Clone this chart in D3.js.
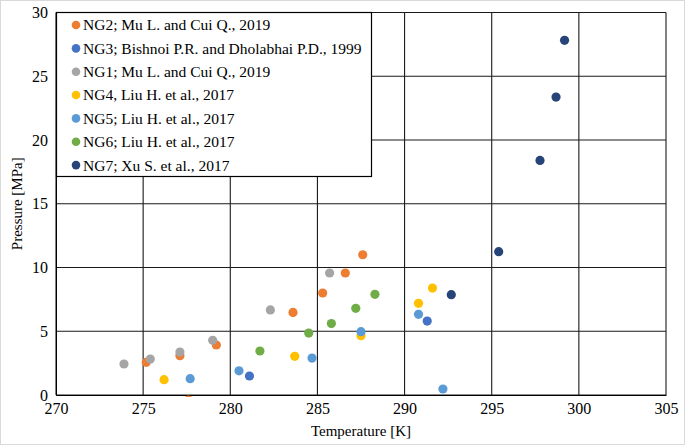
<!DOCTYPE html>
<html><head><meta charset="utf-8">
<script src="https://cdn.jsdelivr.net/npm/d3@7"></script>
<style>body{margin:0;background:#fff}svg{display:block}</style>
</head><body><svg id="c" width="685" height="445"></svg>
<script>
const seriesNames = ["NG2; Mu L. and Cui Q., 2019","NG3; Bishnoi P.R. and Dholabhai P.D., 1999","NG1; Mu L. and Cui Q., 2019","NG4, Liu H. et al., 2017","NG5; Liu H. et al., 2017","NG6; Liu H. et al., 2017","NG7; Xu S. et al., 2017"];
const seriesColors = ["#ED7D31","#4472C4","#A5A5A5","#FFC000","#5B9BD5","#70AD47","#264478"];
const ng2T = [277.6,275.18,277.11,279.2,283.6,285.3,286.6,287.6];
const ng2P = [-0.4,2.56,3.08,3.92,6.48,8.0,9.57,11.0];
const ng3T = [281.1,291.3];
const ng3P = [1.49,5.8];
const ng1T = [273.9,275.41,277.11,278.99,282.3,285.7];
const ng1P = [2.43,2.82,3.37,4.29,6.67,9.57];
const ng4T = [276.2,283.7,287.5,290.8,291.6];
const ng4P = [1.2,3.03,4.65,7.19,8.39];
const ng5T = [277.7,280.5,284.69,287.5,290.8,292.2];
const ng5P = [1.28,1.9,2.9,4.97,6.33,0.47];
const ng6T = [281.7,284.5,285.8,287.2,288.3];
const ng6P = [3.45,4.86,5.6,6.8,7.9];
const ng7T = [292.68,295.4,297.77,298.69,299.18];
const ng7P = [7.87,11.24,18.4,23.37,27.82];
const xTicks = [270,275,280,285,290,295,300,305];
const yTicks = [0,5,10,15,20,25,30];

const allT = [ng2T,ng3T,ng1T,ng4T,ng5T,ng6T,ng7T];
const allP = [ng2P,ng3P,ng1P,ng4P,ng5P,ng6P,ng7P];
const FF = '"Liberation Serif", "Times New Roman", serif';

const svg = d3.select("#c");
svg.append("rect").attr("x",0.5).attr("y",0.5).attr("width",684).attr("height",444).attr("fill","#fff").attr("stroke","#d9d9d9");
const L=56,R=666,T=12.5,B=395;
const x = d3.scaleLinear().domain([270,305]).range([L,R]);
const y = d3.scaleLinear().domain([0,30]).range([B,T]);

// gridlines
const g = svg.append("g");
g.selectAll("line.v").data(xTicks).join("line").attr("x1",d=>x(d)).attr("x2",d=>x(d)).attr("y1",T).attr("y2",B).attr("stroke","#1a1a1a").attr("stroke-width",1.1);
g.selectAll("line.h").data(yTicks).join("line").attr("x1",L).attr("x2",R).attr("y1",d=>y(d)).attr("y2",d=>y(d)).attr("stroke","#1a1a1a").attr("stroke-width",1.1);

// axes
const xa = svg.append("g").attr("transform",`translate(0,${B})`).call(d3.axisBottom(x).tickValues(xTicks).tickSize(0).tickPadding(8).tickFormat(d3.format("d")));
xa.select(".domain").attr("stroke","#000");
const ya = svg.append("g").attr("transform",`translate(${L},0)`).call(d3.axisLeft(y).tickValues(yTicks).tickSize(0).tickPadding(8).tickFormat(d3.format("d")));
ya.select(".domain").attr("stroke","#000");
svg.selectAll(".tick text").style("font-size","16px").style("font-family",FF).style("fill","#000");

svg.append("text").attr("x",(L+R)/2).attr("y",436).attr("text-anchor","middle").style("font-size","15px").style("font-family",FF).text("Temperature [K]");
svg.append("text").attr("transform",`translate(22,${(T+B)/2}) rotate(-90)`).attr("text-anchor","middle").style("font-size","15px").style("font-family",FF).text("Pressure [MPa]");

// points
svg.append("clipPath").attr("id","pc").append("rect").attr("x",L-10).attr("y",0).attr("width",R-L+20).attr("height",B+2);
const pts = svg.append("g").attr("clip-path","url(#pc)");
allT.forEach((ts,i)=>{
  pts.append("g").selectAll("circle").data(ts.map((t,j)=>[t,allP[i][j]])).join("circle")
    .attr("cx",d=>x(d[0])).attr("cy",d=>y(d[1])).attr("r",4.6).attr("fill",seriesColors[i]);
});

// legend
const lg = svg.append("g");
lg.append("rect").attr("x",56.5).attr("y",12.5).attr("width",315).attr("height",164).attr("fill","#fff").attr("stroke","#000").attr("stroke-width",1.2);
seriesNames.forEach((n,i)=>{
  const cy = 25 + i*23.35;
  lg.append("circle").attr("cx",76).attr("cy",cy).attr("r",4.3).attr("fill",seriesColors[i]);
  lg.append("text").attr("x",83).attr("y",cy).attr("dy","0.35em").style("font-size","15.5px").style("font-family",FF).text(n);
});
</script></body></html>
